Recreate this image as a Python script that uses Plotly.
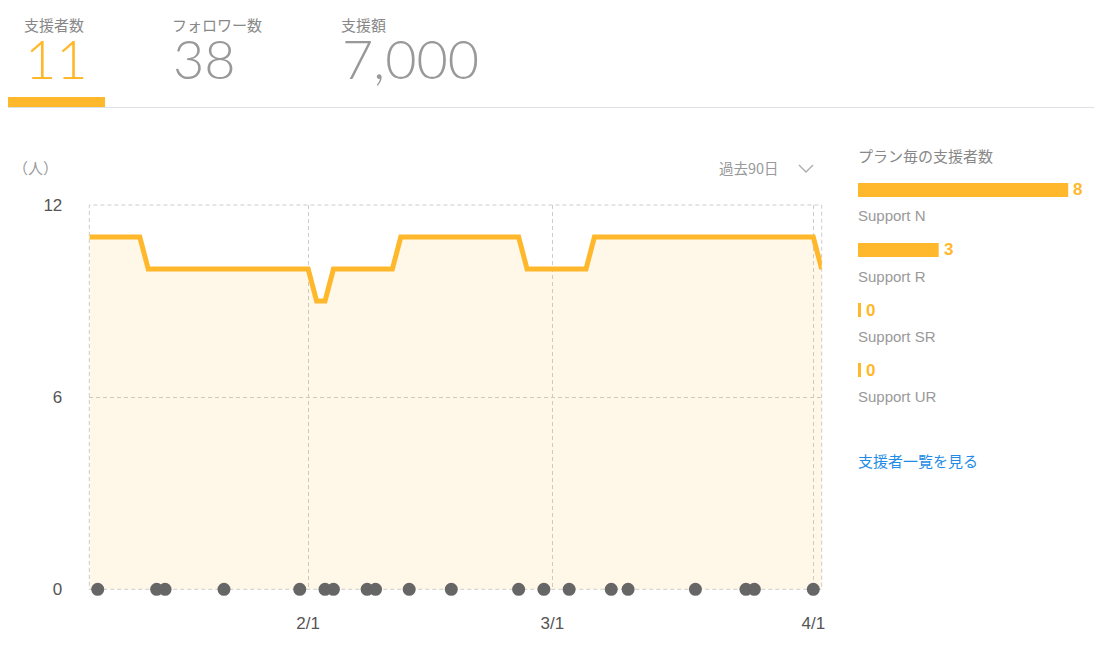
"""支援者ダッシュボード: 過去90日の支援者数推移とプラン毎の支援者数。"""

import plotly.graph_objects as go

W, H = 1102, 654
OFF_X, OFF_Y = 8, 8  # page body margin the figure sits inside

ORANGE = "#ffb82b"
FILL = "rgba(255,184,43,0.11)"
GRID = "#cccccc"
DOT = "#666666"
MUTED = "#999999"
LINK = "#1f8ce6"
JP = "Noto Sans CJK JP"
LAT = "Liberation Sans"

# ヘッダーのタブ
tab_labels = ["支援者数", "フォロワー数", "支援額"]
tab_values = [11, 38, 7000]

# 支援者数の推移 (折れ線の頂点)
line_dates = ["2020-01-06", "2020-01-12", "2020-01-13", "2020-02-01",
              "2020-02-02", "2020-02-03", "2020-02-04", "2020-02-11",
              "2020-02-12", "2020-02-26", "2020-02-27", "2020-03-05",
              "2020-03-06", "2020-04-01", "2020-04-02"]
line_values = [11, 11, 10, 10, 9, 9, 10, 10, 11, 11, 10, 10, 11, 11, 10]

# 支援のあった日 (下のドット)
event_dates = ["2020-01-07", "2020-01-14", "2020-01-15", "2020-01-22",
               "2020-01-31", "2020-02-03", "2020-02-04", "2020-02-08",
               "2020-02-09", "2020-02-13", "2020-02-18", "2020-02-26",
               "2020-02-29", "2020-03-03", "2020-03-08", "2020-03-10",
               "2020-03-18", "2020-03-24", "2020-03-25", "2020-04-01"]

x_ticks = ["2020-02-01", "2020-03-01", "2020-04-01"]
y_ticks = [0, 6, 12]

# プラン毎の支援者数
plans = ["Support N", "Support R", "Support SR", "Support UR"]
plan_counts = [8, 3, 0, 0]

STUB = 0.115  # zero-count plans still show a thin sliver


def px(x):
    return (x - OFF_X) / W


def py(y):
    return 1 - (y - OFF_Y) / H


fig = go.Figure()

fig.add_trace(go.Scatter(
    x=line_dates, y=line_values, mode="lines",
    line={"color": ORANGE, "width": 5},
    fill="tozeroy", fillcolor=FILL,
    hoverinfo="skip", showlegend=False))

fig.add_trace(go.Scatter(
    x=event_dates, y=[0] * len(event_dates), mode="markers",
    marker={"color": DOT, "size": 13},
    cliponaxis=False, hoverinfo="skip", showlegend=False))

# right panel bars
fig.add_trace(go.Bar(
    x=[STUB] * len(plans), y=plans, base=-STUB, orientation="h",
    marker={"color": ORANGE, "line": {"width": 0}}, width=0.235,
    xaxis="x2", yaxis="y2", hoverinfo="skip", showlegend=False))
fig.add_trace(go.Bar(
    x=plan_counts, y=plans, orientation="h",
    marker={"color": ORANGE, "line": {"width": 0}}, width=0.235,
    xaxis="x2", yaxis="y2", hoverinfo="skip", showlegend=False))

annotations = []

# tabs
tab_x = [22, 170, 339]
for i, (lab, val) in enumerate(zip(tab_labels, tab_values)):
    annotations.append(dict(
        x=px(tab_x[i]), y=py(24.5), xref="paper", yref="paper",
        xanchor="left", yanchor="middle", showarrow=False, text=lab,
        font={"family": JP, "size": 15, "color": "#888888"}))
    annotations.append(dict(
        x=px(tab_x[i] + 1), y=py(58), xref="paper", yref="paper",
        xanchor="left", yanchor="middle", showarrow=False, text=f"{val:,}",
        font={"family": "Lato", "size": 54, "weight": 300,
              "color": ORANGE if i == 0 else MUTED}))

annotations.append(dict(
    x=px(11), y=py(168), xref="paper", yref="paper", xanchor="left",
    yanchor="middle", showarrow=False, text="（人）",
    font={"family": JP, "size": 15, "color": MUTED}))
annotations.append(dict(
    x=px(781), y=py(168), xref="paper", yref="paper", xanchor="right",
    yanchor="middle", showarrow=False, text="過去90日",
    font={"family": JP, "size": 14.5, "color": MUTED}))
annotations.append(dict(
    x=px(856), y=py(155), xref="paper", yref="paper", xanchor="left",
    yanchor="middle", showarrow=False, text="プラン毎の支援者数",
    font={"family": JP, "size": 15, "color": "#888888"}))
annotations.append(dict(
    x=px(856), y=py(460.5), xref="paper", yref="paper", xanchor="left",
    yanchor="middle", showarrow=False, text="支援者一覧を見る",
    font={"family": JP, "size": 15, "color": LINK}))

for plan, count in zip(plans, plan_counts):
    annotations.append(dict(
        x=count, y=plan, xref="x2", yref="y2", xanchor="left",
        yanchor="middle", xshift=3, showarrow=False, text=str(count),
        font={"family": LAT, "size": 17, "color": ORANGE, "weight": "bold"}))
    annotations.append(dict(
        x=-STUB, y=plan, xref="x2", yref="y2", xanchor="left",
        yanchor="middle", yshift=-26, xshift=-2, showarrow=False, text=plan,
        font={"family": LAT, "size": 15, "color": MUTED}))

shapes = [
    # tab underline
    dict(type="line", xref="paper", yref="paper", x0=px(8), x1=1,
         y0=py(107.5), y1=py(107.5), line={"color": "#dde1e5", "width": 1}),
    dict(type="rect", xref="paper", yref="paper", x0=px(8), x1=px(105),
         y0=py(107), y1=py(97), fillcolor=ORANGE, line={"width": 0}),
    # period dropdown chevron
    dict(type="path", xref="paper", yref="paper",
         path=f"M {px(799)},{py(165)} L {px(806)},{py(172)} L {px(813)},{py(165)}",
         line={"color": "#aaaaaa", "width": 1.3}),
    # dashed plot frame
    dict(type="rect", xref="x domain", yref="y domain", x0=0, x1=1, y0=0, y1=1,
         line={"color": GRID, "width": 1, "dash": "4px,3px"}, layer="below"),
]

fig.update_layout(
    width=W, height=H, autosize=False,
    margin={"l": 0, "r": 0, "t": 0, "b": 0, "pad": 0, "autoexpand": False},
    paper_bgcolor="white", plot_bgcolor="white",
    showlegend=False, hovermode=False, barmode="overlay",
    xaxis=dict(
        domain=[px(89.3), px(821.7)], type="date",
        range=["2020-01-06", "2020-04-02"],
        tickvals=x_ticks, tickformat="%-m/%-d",
        showgrid=True, gridcolor=GRID, griddash="4px,3px", gridwidth=1,
        zeroline=False, showline=False, ticks="", ticklabelstandoff=22,
        automargin=False,
        tickfont={"family": LAT, "size": 17, "color": "#555555"}),
    yaxis=dict(
        domain=[py(589.3), py(205)], range=[0, 12], tickvals=y_ticks,
        showgrid=True, gridcolor=GRID, griddash="4px,3px", gridwidth=1,
        zeroline=False, showline=False, ticks="", ticklabelstandoff=26,
        automargin=False,
        tickfont={"family": LAT, "size": 17, "color": "#555555"}),
    xaxis2=dict(domain=[px(858), px(1102)], range=[-STUB, 9.305],
                visible=False, anchor="y2", automargin=False),
    yaxis2=dict(domain=[py(400), py(160)], type="category",
                categoryorder="array", categoryarray=plans,
                range=[3.5, -0.5], visible=False, anchor="x2",
                automargin=False),
    annotations=annotations,
    shapes=shapes,
)

fig.write_html("out.html", config={"displayModeBar": False})
